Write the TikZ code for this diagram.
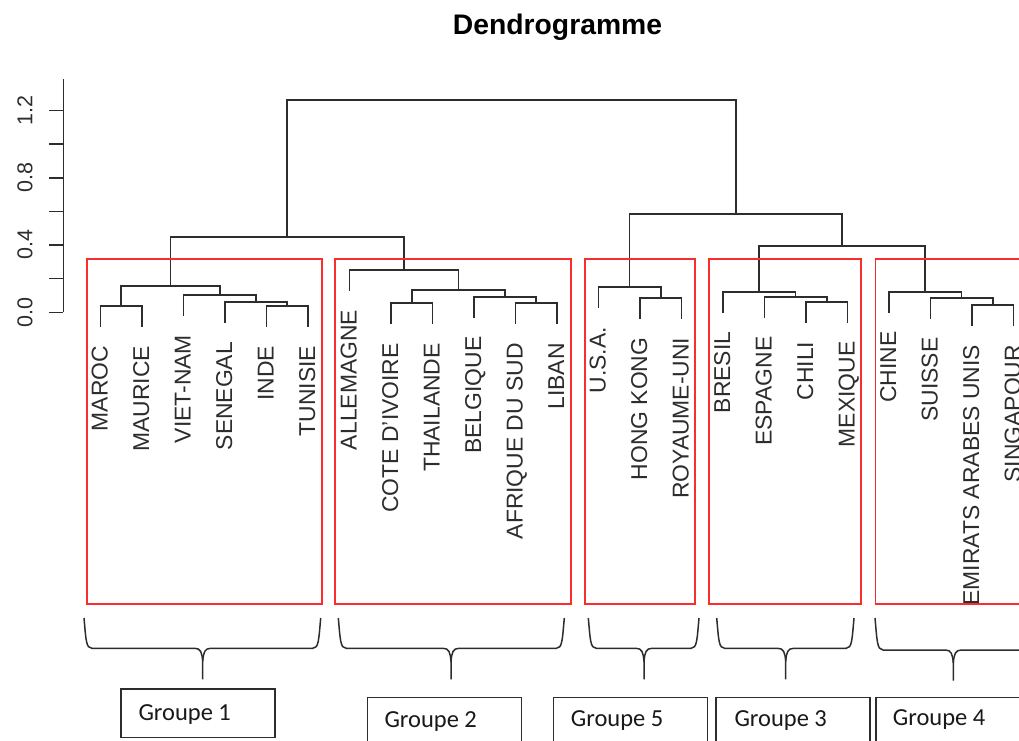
\documentclass[tikz,border=0pt]{standalone}
\usepackage{fontspec}
\setmainfont{Liberation Sans}
\newfontfamily\calib{Carlito}
\definecolor{boxred}{RGB}{250,45,45}
\definecolor{treeg}{RGB}{45,45,45}
\newcommand\curlybrace[5]{% left, centre, right, y of bar, y of tip
  \draw[bracestyle] (#1,618) .. controls (#1+2,640) and (#1+2,#4) .. (#1+8,#4)
    -- (#2-8,#4) .. controls (#2-2,#4) and (#2-0.8,#4+4) .. (#2,#4+13) -- (#2,#5);
  \draw[bracestyle] (#2,#4+13) .. controls (#2+0.8,#4+4) and (#2+2,#4) .. (#2+8,#4)
    -- (#3-8,#4) .. controls (#3-2,#4) and (#3-2,640) .. (#3,618);
}
\begin{document}
\begin{tikzpicture}[x=1pt,y=-1pt,
  tree/.style={draw=treeg, line width=1.7pt},
  axisline/.style={draw=treeg, line width=1.6pt},
  leaflab/.style={rotate=90, anchor=base east, inner sep=0pt, text=treeg,
    font=\fontsize{22.9}{27}\selectfont},
  axlab/.style={rotate=90, anchor=base, inner sep=0pt, text=treeg,
    font=\fontsize{21.5}{25}\selectfont},
  redbox/.style={draw=boxred, line width=1.7pt},
  bracestyle/.style={draw=treeg, line width=1.5pt},
  grpbox/.style={draw=treeg, line width=1.5pt, inner sep=0pt, anchor=north west,
    minimum width=154pt, minimum height=48.4pt},
  grptext/.style={anchor=base west, inner sep=0pt, text=black!90,
    font=\calib\fontsize{24.5}{29}\selectfont}]
\clip (0,0) rectangle (1019,740);
\fill[white] (0,0) rectangle (1019,740);

% title
\node[anchor=base, inner sep=0pt, font=\bfseries\fontsize{28.3}{34}\selectfont] (title) at (557.5,34.3) {Dendrogramme};

% axis
\draw[axisline] (63.3,79.3) -- (63.3,312.3);
\foreach \k in {0,...,6} \draw[axisline] (49,312.3-33.65*\k) -- (63.3,312.3-33.65*\k);
\node[axlab] (a0) at (32.3,312.3) {0.0};
\node[axlab] (a4) at (32.3,244.9) {0.4};
\node[axlab] (a8) at (32.3,177.7) {0.8};
\node[axlab] (a12) at (32.3,110.4) {1.2};

% leaves
\coordinate (L0) at (100.5,326.8);
\coordinate (L1) at (142,326.8);
\coordinate (L2) at (183.5,315.8);
\coordinate (L3) at (225,322.8);
\coordinate (L4) at (266.5,326.8);
\coordinate (L5) at (308,326.8);
\coordinate (L6) at (349.5,290.8);
\coordinate (L7) at (391,324.1);
\coordinate (L8) at (432.5,324.1);
\coordinate (L9) at (474,317.5);
\coordinate (L10) at (515.5,324.1);
\coordinate (L11) at (557,324.1);
\coordinate (L12) at (598.5,308.1);
\coordinate (L13) at (640,318.5);
\coordinate (L14) at (681.5,318.5);
\coordinate (L15) at (723,312.5);
\coordinate (L16) at (764.5,317.5);
\coordinate (L17) at (806,322.5);
\coordinate (L18) at (847.5,322.5);
\coordinate (L19) at (889,312.5);
\coordinate (L20) at (930.5,318.5);
\coordinate (L21) at (972,325.8);
\coordinate (L22) at (1013.5,325.8);

% merges
\coordinate (mAB) at (121.25,306);
\coordinate (mEF) at (287.25,306);
\coordinate (mDEF) at (256.1,302);
\coordinate (mCDEF) at (219.8,295);
\coordinate (g1) at (170.5,286);
\coordinate (mCT) at (411.75,303.3);
\coordinate (mAL) at (536.25,303.3);
\coordinate (mBAL) at (505.1,296.7);
\coordinate (mCTBAL) at (458.4,290);
\coordinate (g2) at (404,270);
\coordinate (g12) at (287.25,237);
\coordinate (mHR) at (660.75,297.7);
\coordinate (g5) at (629.6,287.3);
\coordinate (mCM) at (826.75,301.7);
\coordinate (mECM) at (795.6,296.7);
\coordinate (g3) at (759.3,291.7);
\coordinate (mES) at (992.75,305);
\coordinate (mSES) at (961.6,297.7);
\coordinate (g4) at (925.3,291.7);
\coordinate (g34) at (842.3,246);
\coordinate (g534) at (736,214.3);
\coordinate (root) at (511.6,100);

% tree
\draw[tree] (L0) |- (mAB) -| (L1);
\draw[tree] (L4) |- (mEF) -| (L5);
\draw[tree] (L3) |- (mDEF) -| (mEF);
\draw[tree] (L2) |- (mCDEF) -| (mDEF);
\draw[tree] (mAB) |- (g1) -| (mCDEF);
\draw[tree] (L7) |- (mCT) -| (L8);
\draw[tree] (L10) |- (mAL) -| (L11);
\draw[tree] (L9) |- (mBAL) -| (mAL);
\draw[tree] (mCT) |- (mCTBAL) -| (mBAL);
\draw[tree] (L6) |- (g2) -| (mCTBAL);
\draw[tree] (g1) |- (g12) -| (g2);
\draw[tree] (L13) |- (mHR) -| (L14);
\draw[tree] (L12) |- (g5) -| (mHR);
\draw[tree] (L17) |- (mCM) -| (L18);
\draw[tree] (L16) |- (mECM) -| (mCM);
\draw[tree] (L15) |- (g3) -| (mECM);
\draw[tree] (L21) |- (mES) -| (L22);
\draw[tree] (L20) |- (mSES) -| (mES);
\draw[tree] (L19) |- (g4) -| (mSES);
\draw[tree] (g3) |- (g34) -| (g4);
\draw[tree] (g5) |- (g534) -| (g34);
\draw[tree] (g12) |- (root) -| (g534);

% leaf labels
\node[leaflab] (t0) at ([xshift=7pt,yshift=-19pt]L0) {MAROC};
\node[leaflab] (t1) at ([xshift=7pt,yshift=-19pt]L1) {MAURICE};
\node[leaflab] (t2) at ([xshift=7pt,yshift=-19pt]L2) {VIET-NAM};
\node[leaflab] (t3) at ([xshift=7pt,yshift=-19pt]L3) {SENEGAL};
\node[leaflab] (t4) at ([xshift=7pt,yshift=-19pt]L4) {INDE};
\node[leaflab] (t5) at ([xshift=7pt,yshift=-19pt]L5) {TUNISIE};
\node[leaflab] (t6) at ([xshift=7pt,yshift=-19pt]L6) {ALLEMAGNE};
\node[leaflab] (t7) at ([xshift=7pt,yshift=-19pt]L7) {COTE D'IVOIRE};
\node[leaflab] (t8) at ([xshift=7pt,yshift=-19pt]L8) {THAILANDE};
\node[leaflab] (t9) at ([xshift=7pt,yshift=-19pt]L9) {BELGIQUE};
\node[leaflab] (t10) at ([xshift=7pt,yshift=-19pt]L10) {AFRIQUE DU SUD};
\node[leaflab] (t11) at ([xshift=7pt,yshift=-19pt]L11) {LIBAN};
\node[leaflab] (t12) at ([xshift=7pt,yshift=-19pt]L12) {U.S.A.};
\node[leaflab] (t13) at ([xshift=7pt,yshift=-19pt]L13) {HONG KONG};
\node[leaflab] (t14) at ([xshift=7pt,yshift=-19pt]L14) {ROYAUME-UNI};
\node[leaflab] (t15) at ([xshift=7pt,yshift=-19pt]L15) {BRESIL};
\node[leaflab] (t16) at ([xshift=7pt,yshift=-19pt]L16) {ESPAGNE};
\node[leaflab] (t17) at ([xshift=7pt,yshift=-19pt]L17) {CHILI};
\node[leaflab] (t18) at ([xshift=7pt,yshift=-19pt]L18) {MEXIQUE};
\node[leaflab] (t19) at ([xshift=7pt,yshift=-19pt]L19) {CHINE};
\node[leaflab] (t20) at ([xshift=7pt,yshift=-19pt]L20) {SUISSE};
\node[leaflab] (t21) at ([xshift=7pt,yshift=-19pt]L21) {EMIRATS ARABES UNIS};
\node[leaflab] (t22) at ([xshift=7pt,yshift=-19pt]L22) {SINGAPOUR};

% red boxes
\draw[redbox] (86.7,259.3) rectangle (322.3,604);
\draw[redbox] (335,259.3) rectangle (570.7,604);
\draw[redbox] (585,259.3) rectangle (695,604);
\draw[redbox] (709.3,259.3) rectangle (861.3,604);
\draw[redbox] (875.5,259.3) rectangle (1035,604);

% braces
\curlybrace{84}{202.7}{320.7}{648.3}{679.3}
\curlybrace{338.3}{451}{564.3}{648.3}{679.3}
\curlybrace{588.3}{644}{699}{648.3}{679.3}
\curlybrace{716.7}{785.7}{854}{648.3}{679.3}
\curlybrace{875}{953.3}{1031.6}{650}{680.7}

% group boxes
\node[grpbox] (b1) at (120,688.3) {};
\node[grptext] (n1) at (138.3,720.7) {Groupe 1};
\node[grpbox] (b2) at (366.7,696.7) {};
\node[grptext] (n2) at (384.3,727.3) {Groupe 2};
\node[grpbox] (b5) at (552.7,696.7) {};
\node[grptext] (n5) at (570.7,726.7) {Groupe 5};
\node[grpbox] (b3) at (715,696.7) {};
\node[grptext] (n3) at (734.3,726.7) {Groupe 3};
\node[grpbox] (b4) at (875,696.7) {};
\node[grptext] (n4) at (892.7,725) {Groupe 4};
\end{tikzpicture}
\end{document}
